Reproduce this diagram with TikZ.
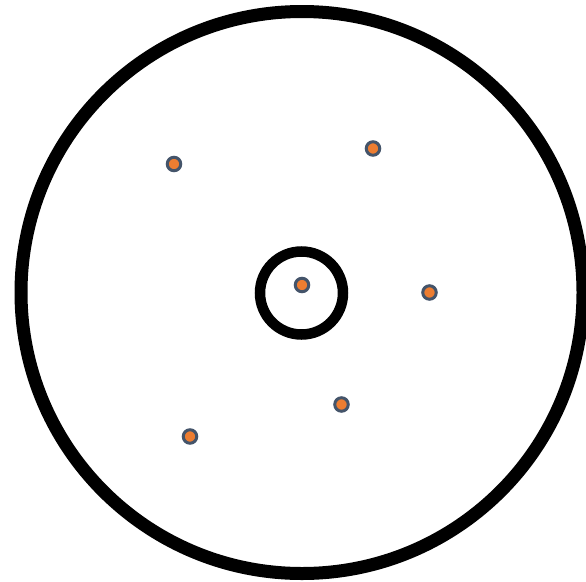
\documentclass[tikz,border=0pt]{standalone}
\definecolor{dotfill}{HTML}{ED7D31}
\definecolor{dotedge}{HTML}{44546A}
\begin{document}
\begin{tikzpicture}[x=1pt,y=-1pt,
  ring/.style={circle,draw=black,inner sep=0pt,fill=none},
  pt/.style={circle,draw=dotedge,fill=dotfill,line width=3pt,minimum size=13.5pt,inner sep=0pt}]
\useasboundingbox[fill=white] (0,0) rectangle (586,581);
\clip (0,0) rectangle (586,581);
\node[ring,line width=13pt,minimum size=562pt] (outer) at (302,292.5) {};
\node[ring,line width=10.5pt,minimum size=83pt] (inner) at (301.5,293) {};
\node[pt] (p1) at (174,164) {};
\node[pt] (p2) at (373,148.5) {};
\node[pt] (p3) at (302,285) {};
\node[pt] (p4) at (429.5,292.5) {};
\node[pt] (p5) at (341.5,404.5) {};
\node[pt] (p6) at (190,436.5) {};
\end{tikzpicture}
\end{document}
